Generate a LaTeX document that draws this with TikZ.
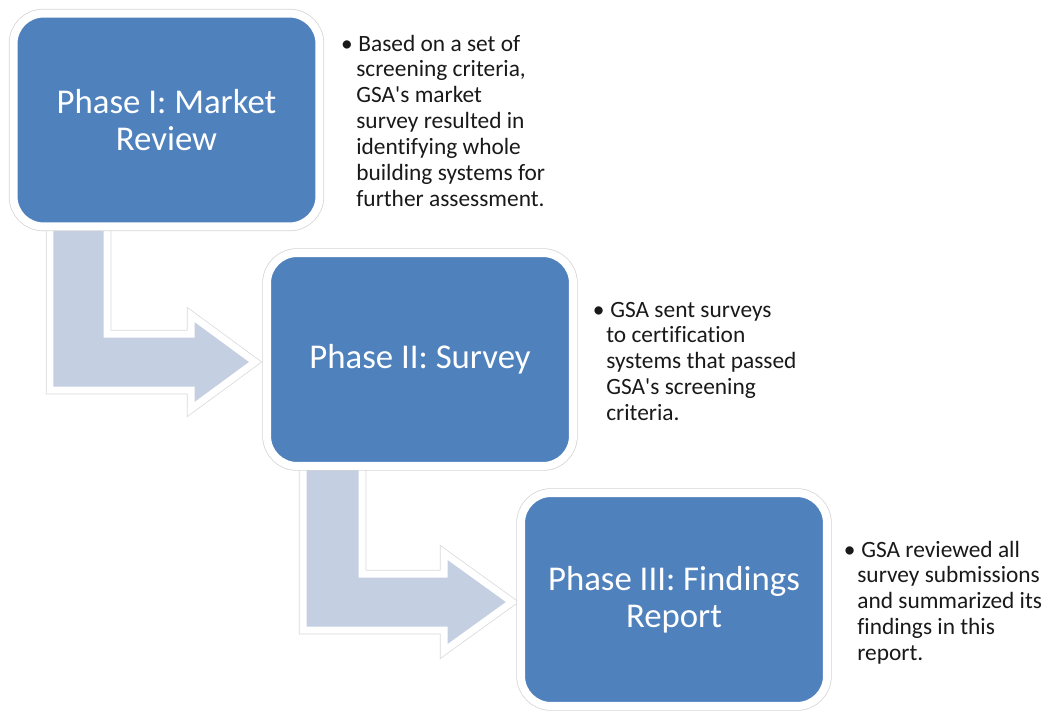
\documentclass[tikz,border=0pt]{standalone}
\usepackage{fontspec}
\setmainfont{Carlito}[Ligatures=NoCommon]
\usepackage{tikz}
\usetikzlibrary{shadows}
\definecolor{phaseblue}{RGB}{79,129,189}
\definecolor{arrowblue}{RGB}{196,207,226}

\begin{document}
\begin{tikzpicture}[x=0.02cm, y=-0.02cm,
    phase/.style={rectangle, rounded corners=0.6cm, fill=phaseblue, draw=white,
      line width=0.16cm, minimum width=6.12cm, minimum height=4.26cm,
      text=white, align=center, font=\fontsize{19.8}{21}\selectfont,
      preaction={draw=black!17, line width=0.19cm},
      drop shadow={opacity=0.3, shadow xshift=1pt, shadow yshift=-1.5pt}},
    bendarrow/.style={fill=arrowblue, draw=white, line width=0.14cm,
      preaction={draw=black!15, line width=0.17cm},
      drop shadow={opacity=0.25, shadow xshift=1pt, shadow yshift=-1.5pt}},
    note/.style={anchor=north west, inner sep=0pt, align=left, text=black!90,
      font=\fontsize{13.3}{14.7}\selectfont}]
                \useasboundingbox (0,0) rectangle (1048,710);

                % Bent arrows (under the boxes)
                \draw[bendarrow] (50,215) -- (50,390) -- (191,390) -- (191,409) -- (255,362)
                    -- (191,315) -- (191,334) -- (107,334) -- (107,215) -- cycle;
                \draw[bendarrow] (303,455) -- (303,630) -- (444,630) -- (444,651) -- (512,602)
                    -- (444,553) -- (444,574) -- (362,574) -- (362,455) -- cycle;

                % Phases
                \node[phase] (p1) at (166.5,120) {Phase I: Market\\Review};
                \node[phase] (p2) at (420,359.5) {Phase II: Survey};
                \node[phase] (p3) at (674,599.5) {Phase III: Findings\\Report};

                % Notes
                \node[note] (n1) at (356,34.5) {\llap{\textbullet\hspace{2pt}}\hspace{1.2pt}Based on a set of\\
                    screening criteria,\\GSA\textquotesingle s market\\survey resulted in\\identifying whole\\
                    building systems for\\further assessment.};
                \node[note] (n2) at (606,301.5) {\llap{\textbullet\hspace{1pt}}\hspace{2.3pt}GSA sent surveys\\
                    to certification\\systems that passed\\GSA\textquotesingle s screening\\criteria.};
                \node[note] (n3) at (857,540.5) {\llap{\textbullet\hspace{1pt}}\hspace{2.3pt}GSA reviewed all\\
                    survey submissions\\and summarized its\\findings in this\\report.};
            \end{tikzpicture}
\end{document}
